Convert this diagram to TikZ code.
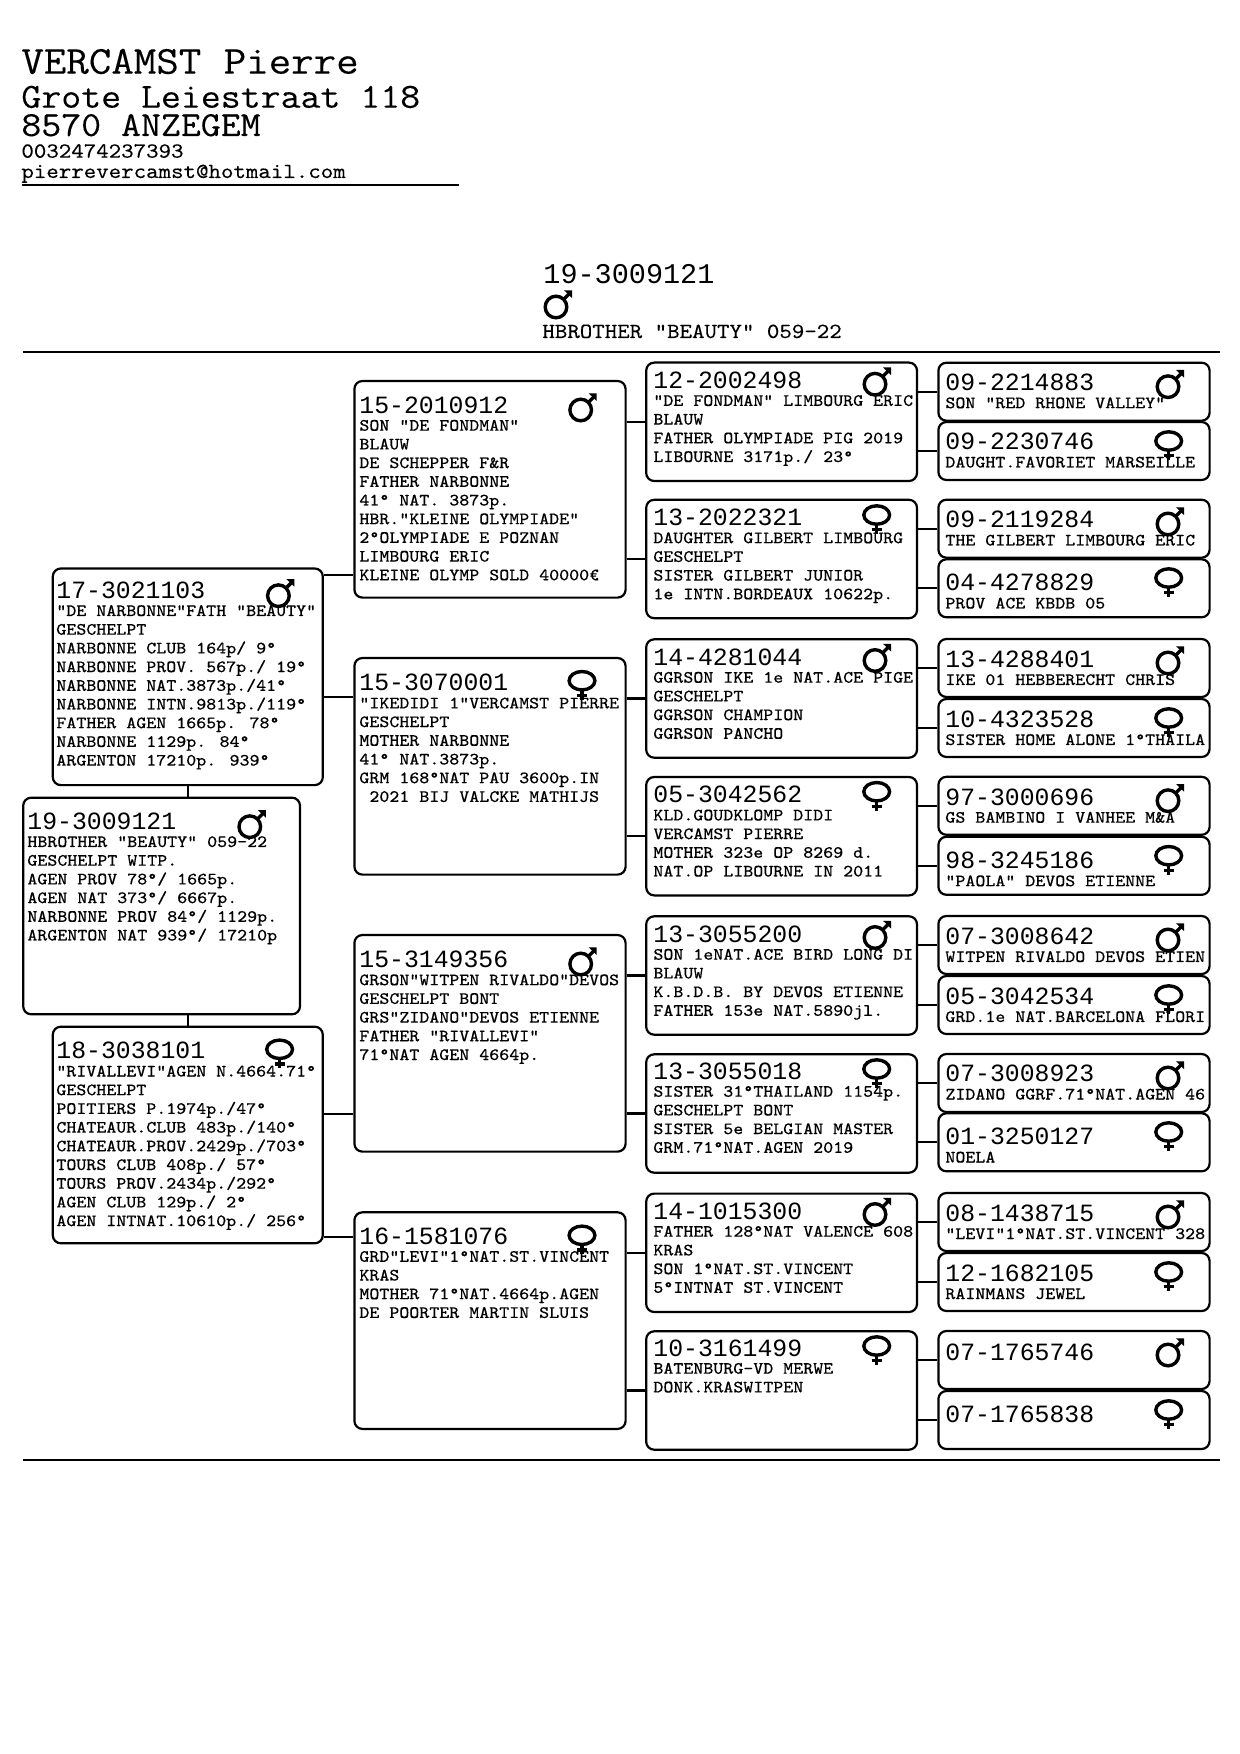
\documentclass[tikz,border=0pt]{standalone}
\usepackage{fontspec}
\newfontfamily\boxfont{Latin Modern Mono}[FakeStretch=1.1,FakeBold=0.2]
\newfontfamily\numfont{Liberation Mono}
\newcommand{\nr}[1]{\raisebox{-0.55pt}{\numfont\fontsize{12.4}{9.35}\selectfont #1}}
\tikzset{
  pigeon/.style={draw, line width=1.1pt, rounded corners=4pt, inner sep=0pt},
  gentop/.style={pigeon, minimum width=135pt, minimum height=108.3pt},
  gensec/.style={pigeon, minimum width=135.6pt, minimum height=108.3pt},
  genthird/.style={pigeon, minimum width=135.4pt, minimum height=59.2pt},
  genfourth/.style={pigeon, minimum width=135.6pt, minimum height=29pt},
  boxtext/.style={anchor=north west, yshift=-0.55pt, inner sep=0pt, align=left, font=\boxfont\fontsize{8.65}{9.35}\selectfont},
  headtext/.style={anchor=base west, inner sep=0pt},
  link/.style={line width=1.1pt},
  malesym/.pic={
    \draw[line width=1.7pt] (0,0) circle (10.8);
    \draw[line width=1.7pt] (7,-7) -- (13,-13);
    \fill (16,-16.7) -- (8,-16.7) -- (16,-9) -- cycle;
  },
  femalesym/.pic={
    \draw[line width=1.7pt] (0,0) ellipse (12.9 and 9.2);
    \draw[line width=1.7pt] (0,8.9) -- (0,19);
    \draw[line width=1.7pt] (-5,14.7) -- (5,14.7);
  }
}
\begin{document}
\begin{tikzpicture}[x=0.5pt, y=-0.5pt]
  \useasboundingbox (0,0) rectangle (1240,1754);
  % owner
  \node[headtext, font=\boxfont\fontsize{19.85}{20}\selectfont] (owner) at (21,73.7) {VERCAMST Pierre};
  \node[headtext, font=\boxfont\fontsize{17.6}{18}\selectfont] (street) at (21,107.7) {Grote Leiestraat 118};
  \node[headtext, font=\boxfont\fontsize{17.6}{18}\selectfont] (city) at (21,136) {8570 ANZEGEM};
  \node[headtext, font=\boxfont\fontsize{10.8}{12}\selectfont] (phone) at (21,157.7) {0032474237393};
  \node[headtext, font=\boxfont\fontsize{10.8}{12}\selectfont] (mail) at (21,178) {pierrevercamst@hotmail.com};
  \coordinate (ownerl) at (22,185);
  \coordinate (ownerr) at (459,185);
  \draw[link] (ownerl) -- (ownerr);
  % title
  \node[headtext, font=\numfont\fontsize{14.25}{16}\selectfont] (titlenr) at (543,283.5) {19-3009121};
  \pic at (556,307) {malesym};
  \node[headtext, font=\boxfont\fontsize{10.8}{12}\selectfont] (titlename) at (542,338) {HBROTHER "BEAUTY" 059-22};
  \coordinate (topl) at (23,352);
  \coordinate (topr) at (1220,352);
  \coordinate (botl) at (23,1460);
  \coordinate (botr) at (1220,1460);
  \draw[link] (topl) -- (topr);
  \draw[link] (botl) -- (botr);

  % first column
  \node[gentop] (sire) at (187.8,676.8) {};
  \node[gentop, minimum width=138.4pt] (bird) at (161.6,906) {};
  \node[gentop] (dam) at (187.8,1135) {};
  \node[boxtext] (siret) at (56,580.3) {\nr{17-3021103}\\"DE NARBONNE"FATH "BEAUTY"\\GESCHELPT\\NARBONNE CLUB 164p/ 9°\\NARBONNE PROV. 567p./ 19°\\NARBONNE NAT.3873p./41°\\NARBONNE INTN.9813p./119°\\FATHER AGEN 1665p. 78°\\NARBONNE 1129p. 84°\\ARGENTON 17210p. 939°};
  \node[boxtext] (birdt) at (27,811.3) {\nr{19-3009121}\\HBROTHER "BEAUTY" 059-22\\GESCHELPT WITP.\\AGEN PROV 78°/ 1665p.\\AGEN NAT 373°/ 6667p.\\NARBONNE PROV 84°/ 1129p.\\ARGENTON NAT 939°/ 17210p};
  \node[boxtext] (damt) at (56,1040.8) {\nr{18-3038101}\\"RIVALLEVI"AGEN N.4664.71°\\GESCHELPT\\POITIERS P.1974p./47°\\CHATEAUR.CLUB 483p./140°\\CHATEAUR.PROV.2429p./703°\\TOURS CLUB 408p./ 57°\\TOURS PROV.2434p./292°\\AGEN CLUB 129p./ 2°\\AGEN INTNAT.10610p./ 256°};
  \pic at (278.4,595.7) {malesym};
  \pic at (249.8,826.7) {malesym};
  \pic at (279.6,1049.3) {femalesym};

  % second column
  \node[gensec] (gs1) at (490,489.3) {};
  \node[gensec] (gs2) at (490,766.3) {};
  \node[gensec] (gs3) at (490,1043.3) {};
  \node[gensec] (gs4) at (490,1320.6) {};
  \node[boxtext] (gs1t) at (359,395) {\nr{15-2010912}\\SON "DE FONDMAN"\\BLAUW\\DE SCHEPPER F\&R\\FATHER NARBONNE\\41° NAT. 3873p.\\HBR."KLEINE OLYMPIADE"\\2°OLYMPIADE E POZNAN\\LIMBOURG ERIC\\KLEINE OLYMP SOLD 40000€};
  \node[boxtext] (gs2t) at (359,672.7) {\nr{15-3070001}\\"IKEDIDI 1"VERCAMST PIERRE\\GESCHELPT\\MOTHER NARBONNE\\41° NAT.3873p.\\GRM 168°NAT PAU 3600p.IN\\~2021 BIJ VALCKE MATHIJS};
  \node[boxtext] (gs3t) at (359,949.5) {\nr{15-3149356}\\GRSON"WITPEN RIVALDO"DEVOS\\GESCHELPT BONT\\GRS"ZIDANO"DEVOS ETIENNE\\FATHER "RIVALLEVI"\\71°NAT AGEN 4664p.};
  \node[boxtext] (gs4t) at (359,1226.1) {\nr{16-1581076}\\GRD"LEVI"1°NAT.ST.VINCENT\\KRAS\\MOTHER 71°NAT.4664p.AGEN\\DE POORTER MARTIN SLUIS};
  \pic at (580.7,410) {malesym};
  \pic at (582,680.7) {femalesym};
  \pic at (580.7,964) {malesym};
  \pic at (582,1235.3) {femalesym};

  % third column
  \node[genthird] (gg1) at (781.6,421.8) {};
  \node[genthird] (gg2) at (781.6,559) {};
  \node[genthird] (gg3) at (781.6,698.5) {};
  \node[genthird] (gg4) at (781.6,836.2) {};
  \node[genthird] (gg5) at (781.6,975.5) {};
  \node[genthird] (gg6) at (781.6,1113.5) {};
  \node[genthird] (gg7) at (781.6,1252.8) {};
  \node[genthird] (gg8) at (781.6,1390.5) {};
  \node[boxtext] (gg1t) at (653,370.2) {\nr{12-2002498}\\"DE FONDMAN" LIMBOURG ERIC\\BLAUW\\FATHER OLYMPIADE PIG 2019\\LIBOURNE 3171p./ 23°};
  \node[boxtext] (gg2t) at (653,507.5) {\nr{13-2022321}\\DAUGHTER GILBERT LIMBOURG\\GESCHELPT\\SISTER GILBERT JUNIOR\\1e INTN.BORDEAUX 10622p.};
  \node[boxtext] (gg3t) at (653,647) {\nr{14-4281044}\\GGRSON IKE 1e NAT.ACE PIGE\\GESCHELPT\\GGRSON CHAMPION\\GGRSON PANCHO};
  \node[boxtext] (gg4t) at (653,784.7) {\nr{05-3042562}\\KLD.GOUDKLOMP DIDI\\VERCAMST PIERRE\\MOTHER 323e OP 8269 d.\\NAT.OP LIBOURNE IN 2011};
  \node[boxtext] (gg5t) at (653,924) {\nr{13-3055200}\\SON 1eNAT.ACE BIRD LONG DI\\BLAUW\\K.B.D.B. BY DEVOS ETIENNE\\FATHER 153e NAT.5890jl.};
  \node[boxtext] (gg6t) at (653,1061) {\nr{13-3055018}\\SISTER 31°THAILAND 1154p.\\GESCHELPT BONT\\SISTER 5e BELGIAN MASTER\\GRM.71°NAT.AGEN 2019};
  \node[boxtext] (gg7t) at (653,1201) {\nr{14-1015300}\\FATHER 128°NAT VALENCE 608\\KRAS\\SON 1°NAT.ST.VINCENT\\5°INTNAT ST.VINCENT};
  \node[boxtext] (gg8t) at (653,1338) {\nr{10-3161499}\\BATENBURG-VD MERWE\\DONK.KRASWITPEN};
  \pic at (875,384.2) {malesym};
  \pic at (876.7,515) {femalesym};
  \pic at (875,660.5) {malesym};
  \pic at (876.7,791.7) {femalesym};
  \pic at (875,937.5) {malesym};
  \pic at (876.7,1069) {femalesym};
  \pic at (875,1214.5) {malesym};
  \pic at (876.7,1346) {femalesym};

  % fourth column
  \node[genfourth] (a1) at (1074,391.7) {};
  \node[genfourth] (a2) at (1074,451) {};
  \node[genfourth] (a3) at (1074,528.7) {};
  \node[genfourth] (a4) at (1074,588.3) {};
  \node[genfourth] (a5) at (1074,668) {};
  \node[genfourth] (a6) at (1074,728) {};
  \node[genfourth] (a7) at (1074,805.8) {};
  \node[genfourth] (a8) at (1074,865.8) {};
  \node[genfourth] (a9) at (1074,945) {};
  \node[genfourth] (a10) at (1074,1005) {};
  \node[genfourth] (a11) at (1074,1083) {};
  \node[genfourth] (a12) at (1074,1142.3) {};
  \node[genfourth] (a13) at (1074,1222) {};
  \node[genfourth] (a14) at (1074,1282) {};
  \node[genfourth] (a15) at (1074,1360) {};
  \node[genfourth] (a16) at (1074,1420) {};
  \node[boxtext] (a1t) at (945,372.5) {\nr{09-2214883}\\SON "RED RHONE VALLEY"};
  \node[boxtext] (a2t) at (945,431.8) {\nr{09-2230746}\\DAUGHT.FAVORIET MARSEILLE};
  \node[boxtext] (a3t) at (945,509.8) {\nr{09-2119284}\\THE GILBERT LIMBOURG ERIC};
  \node[boxtext] (a4t) at (945,572.8) {\nr{04-4278829}\\PROV ACE KBDB 05};
  \node[boxtext] (a5t) at (945,649.3) {\nr{13-4288401}\\IKE 01 HEBBERECHT CHRIS};
  \node[boxtext] (a6t) at (945,709.3) {\nr{10-4323528}\\SISTER HOME ALONE 1°THAILA};
  \node[boxtext] (a7t) at (945,787) {\nr{97-3000696}\\GS BAMBINO I VANHEE M\&A};
  \node[boxtext] (a8t) at (945,850.5) {\nr{98-3245186}\\"PAOLA" DEVOS ETIENNE};
  \node[boxtext] (a9t) at (945,926.3) {\nr{07-3008642}\\WITPEN RIVALDO DEVOS ETIEN};
  \node[boxtext] (a10t) at (945,986.3) {\nr{05-3042534}\\GRD.1e NAT.BARCELONA FLORI};
  \node[boxtext] (a11t) at (945,1063.8) {\nr{07-3008923}\\ZIDANO GGRF.71°NAT.AGEN 46};
  \node[boxtext] (a12t) at (945,1126.8) {\nr{01-3250127}\\NOELA};
  \node[boxtext] (a13t) at (945,1203.3) {\nr{08-1438715}\\"LEVI"1°NAT.ST.VINCENT 328};
  \node[boxtext] (a14t) at (945,1263.3) {\nr{12-1682105}\\RAINMANS JEWEL};
  \node[boxtext] (a15t) at (945,1342.3) {\nr{07-1765746}};
  \node[boxtext] (a16t) at (945,1404.8) {\nr{07-1765838}};
  \pic at (1168,386.7) {malesym};
  \pic at (1168.7,441) {femalesym};
  \pic at (1168,524) {malesym};
  \pic at (1168.7,578) {femalesym};
  \pic at (1168,663) {malesym};
  \pic at (1168.7,718) {femalesym};
  \pic at (1168,800.7) {malesym};
  \pic at (1168.7,855.7) {femalesym};
  \pic at (1168,940) {malesym};
  \pic at (1168.7,995) {femalesym};
  \pic at (1168,1078) {malesym};
  \pic at (1168.7,1132) {femalesym};
  \pic at (1168,1217) {malesym};
  \pic at (1168.7,1272) {femalesym};
  \pic at (1168,1355) {malesym};
  \pic at (1168.7,1410) {femalesym};

  % links
  \draw[link] (sire.south) -- (sire.south |- bird.north);
  \draw[link] (dam.north) -- (dam.north |- bird.south);
  \coordinate (j1) at (gs1.south west |- 0,574.7);
  \coordinate (j2) at (gs2.north west |- 0,697);
  \coordinate (j3) at (gs3.north west |- 0,1114);
  \coordinate (j4) at (gs4.north west |- 0,1237);
  \draw[link] (j1 -| sire.east) -- (j1);
  \draw[link] (j2 -| sire.east) -- (j2);
  \draw[link] (j3 -| dam.east) -- (j3);
  \draw[link] (j4 -| dam.east) -- (j4);
  \draw[link] (gs1.east |- gg1.west) -- (gg1.west);
  \draw[link] (gs1.east |- gg2.west) -- (gg2.west);
  \draw[link] (gs2.east |- gg3.west) -- (gg3.west);
  \draw[link] (gs2.east |- gg4.west) -- (gg4.west);
  \draw[link] (gs3.east |- gg5.west) -- (gg5.west);
  \draw[link] (gs3.east |- gg6.west) -- (gg6.west);
  \draw[link] (gs4.east |- gg7.west) -- (gg7.west);
  \draw[link] (gs4.east |- gg8.west) -- (gg8.west);
  \draw[link] (gg1.east |- a1.west) -- (a1.west);
  \draw[link] (gg1.east |- a2.west) -- (a2.west);
  \draw[link] (gg2.east |- a3.west) -- (a3.west);
  \draw[link] (gg2.east |- a4.west) -- (a4.west);
  \draw[link] (gg3.east |- a5.west) -- (a5.west);
  \draw[link] (gg3.east |- a6.west) -- (a6.west);
  \draw[link] (gg4.east |- a7.west) -- (a7.west);
  \draw[link] (gg4.east |- a8.west) -- (a8.west);
  \draw[link] (gg5.east |- a9.west) -- (a9.west);
  \draw[link] (gg5.east |- a10.west) -- (a10.west);
  \draw[link] (gg6.east |- a11.west) -- (a11.west);
  \draw[link] (gg6.east |- a12.west) -- (a12.west);
  \draw[link] (gg7.east |- a13.west) -- (a13.west);
  \draw[link] (gg7.east |- a14.west) -- (a14.west);
  \draw[link] (gg8.east |- a15.west) -- (a15.west);
  \draw[link] (gg8.east |- a16.west) -- (a16.west);
\end{tikzpicture}
\end{document}
